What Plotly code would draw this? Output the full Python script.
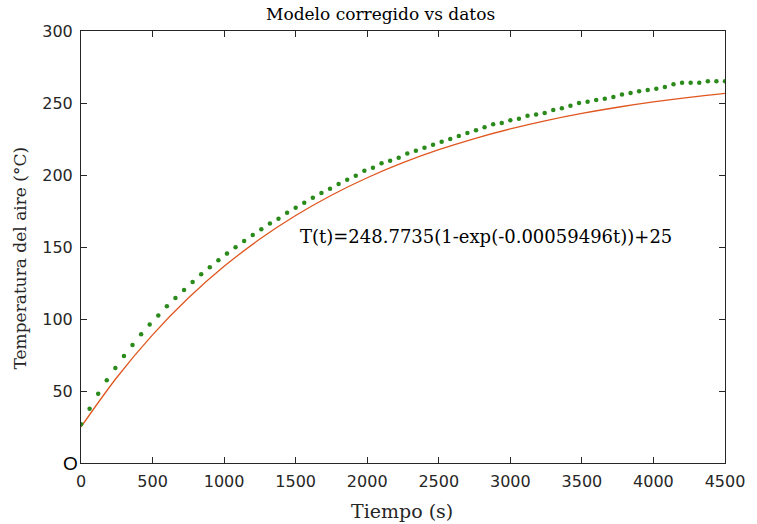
import plotly.graph_objects as go

# Measured data (time in s, air temperature in °C)
t_data = [0, 60, 120, 180, 240, 300, 360, 420, 480, 540, 600, 660, 720, 780, 840, 900,
          960, 1020, 1080, 1140, 1200, 1260, 1320, 1380, 1440, 1500, 1560, 1620, 1680,
          1740, 1800, 1860, 1920, 1980, 2040, 2100, 2160, 2220, 2280, 2340, 2400, 2460,
          2520, 2580, 2640, 2700, 2760, 2820, 2880, 2940, 3000, 3060, 3120, 3180, 3240,
          3300, 3360, 3420, 3480, 3540, 3600, 3660, 3720, 3780, 3840, 3900, 3960, 4020,
          4080, 4140, 4200, 4260, 4320, 4380, 4440, 4500]
temp_data = [26.9, 37.7, 48.1, 57.4, 66.0, 74.3, 81.9, 89.4, 96.1, 102.4, 108.9, 114.6,
             120.1, 125.7, 131.0, 135.9, 140.8, 145.4, 149.8, 154.2, 158.3, 162.3, 166.4,
             169.7, 173.8, 177.3, 180.8, 184.2, 187.5, 190.5, 193.7, 196.7, 199.5, 203.0,
             205.1, 208.1, 209.9, 212.0, 215.0, 216.9, 219.0, 221.0, 223.1, 225.0, 227.1,
             229.2, 231.0, 233.1, 235.2, 236.1, 238.0, 239.1, 241.2, 242.1, 243.1, 245.1,
             246.3, 248.1, 250.0, 250.9, 252.1, 253.0, 254.2, 255.9, 256.9, 258.1, 259.0,
             259.9, 261.1, 263.0, 264.1, 264.1, 264.1, 265.1, 265.1, 265.1]

# Corrected model curve samples
t_model = [0, 250, 500, 750, 1000, 1250, 1500, 1750, 2000, 2250, 2500, 2750, 3000,
           3250, 3500, 3750, 4000, 4250, 4500]
temp_model = [25.00, 59.38, 89.01, 114.55, 136.55, 155.52, 171.86, 185.95, 198.08,
              208.54, 217.56, 225.33, 232.02, 237.79, 242.76, 247.05, 250.74, 253.93,
              256.67]

x_ticks = [0, 500, 1000, 1500, 2000, 2500, 3000, 3500, 4000, 4500]
x_ticktext = ["0", "500", "1000", "1500", "2000", "2500", "3000", "3500", "4000", "4500"]
y_ticks = [0, 50, 100, 150, 200, 250, 300]
y_ticktext = ["", "50", "100", "150", "200", "250", "300"]

title_text = "Modelo corregido vs datos"
x_title = "Tiempo (s)"
y_title = "Temperatura del aire (°C)"
eq_text = "T(t)=248.7735(1-exp(-0.00059496t))+25"

AX = "#262626"
SERIF = "DejaVu Serif"
SANS = "DejaVu Sans"

fig = go.Figure()
fig.add_trace(go.Scatter(x=t_model, y=temp_model, mode="lines",
                         line=dict(color="#e0561f", width=1.3, shape="spline"),
                         showlegend=False, hoverinfo="skip"))
fig.add_trace(go.Scatter(x=t_data, y=temp_data, mode="markers",
                         marker=dict(color="#2a8a1a", size=4.5),
                         showlegend=False))

axis_common = dict(showgrid=False, zeroline=False, showline=True, linecolor=AX,
                   linewidth=1, mirror="ticks", ticks="inside", ticklen=6,
                   tickcolor=AX, tickwidth=1,
                   tickfont=dict(family=SANS, size=16, color=AX))

fig.update_layout(
    width=757, height=524,
    margin=dict(l=81, r=26, t=31, b=61, pad=0),
    paper_bgcolor="white", plot_bgcolor="white",
    xaxis=dict(range=[0, 4500], tickmode="array", tickvals=x_ticks,
               ticktext=x_ticktext, ticklabelstandoff=4, **axis_common),
    yaxis=dict(range=[0, 300], tickmode="array", tickvals=y_ticks,
               ticktext=y_ticktext, ticklabelstandoff=4, **axis_common),
    annotations=[
        dict(text=title_text, xref="paper", yref="paper", x=0.465, y=1.04,
             xanchor="center", yanchor="middle", showarrow=False,
             font=dict(family=SERIF, size=17, color="black")),
        dict(text=x_title, xref="paper", yref="paper", x=0.499, y=-0.111,
             xanchor="center", yanchor="middle", showarrow=False,
             font=dict(family=SERIF, size=19, color=AX)),
        dict(text=y_title, xref="paper", yref="paper", x=-0.094, y=0.4745,
             xanchor="center", yanchor="middle", showarrow=False, textangle=-90,
             font=dict(family=SERIF, size=17, color=AX)),
        dict(text=eq_text, xref="x", yref="y", x=1517, y=157,
             xanchor="left", yanchor="middle", showarrow=False,
             font=dict(family=SERIF, size=18, color="black")),
        dict(text="O", xref="paper", yref="y", x=-0.017, y=0,
             xanchor="center", yanchor="middle", showarrow=False,
             font=dict(family="Liberation Sans", size=19, color="black")),
    ],
)

fig.write_html("out.html")
